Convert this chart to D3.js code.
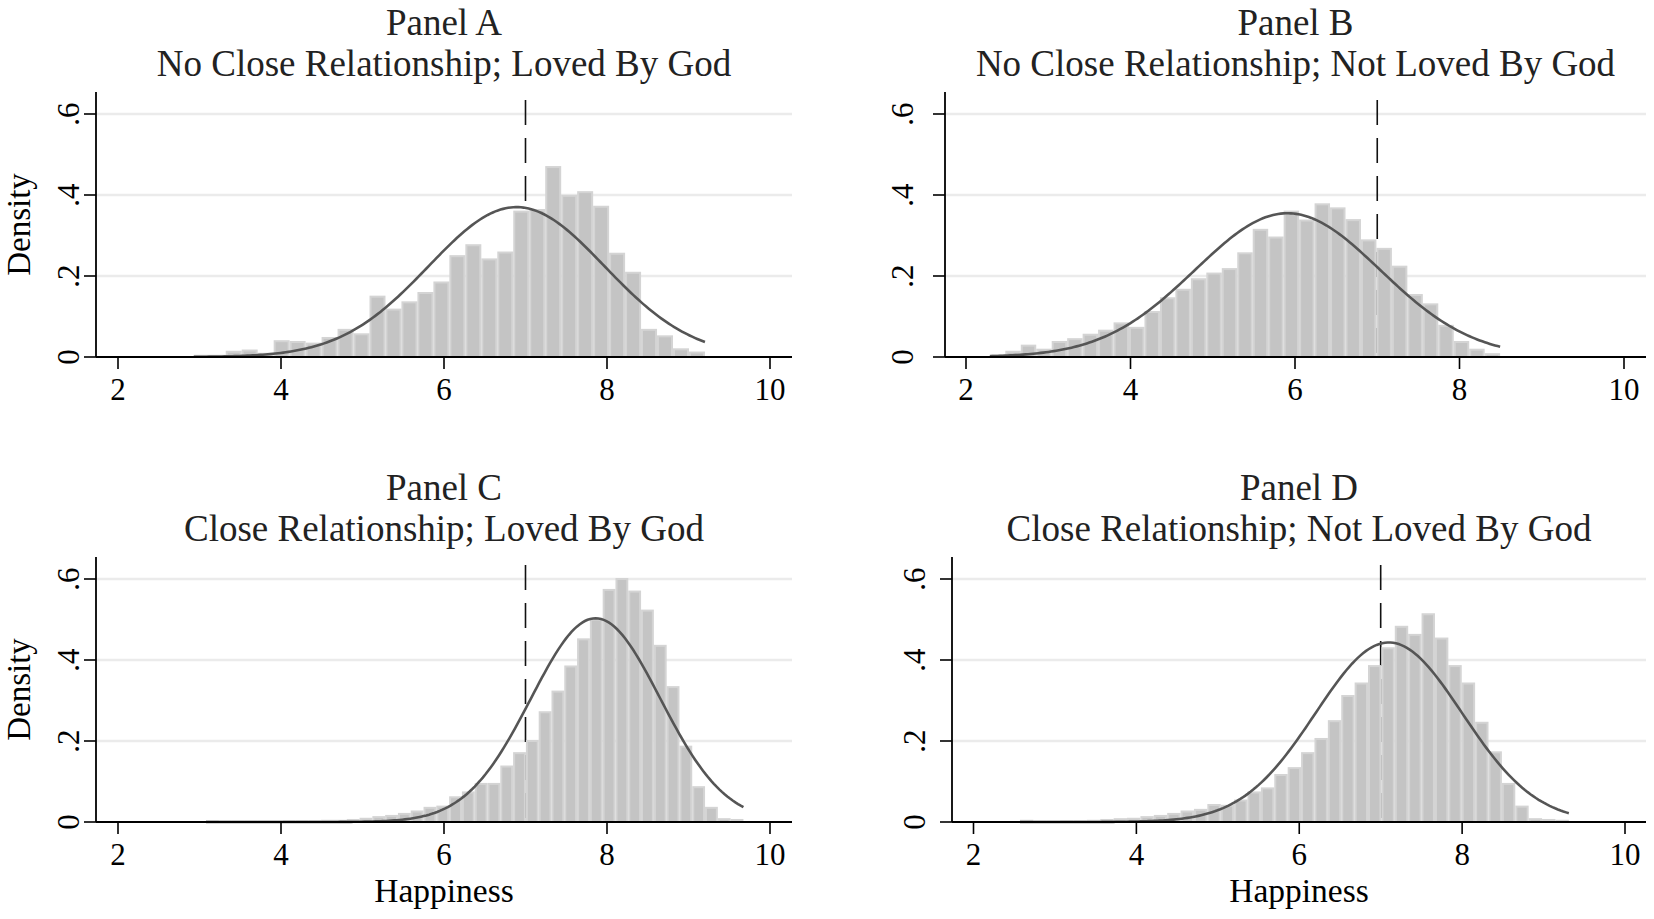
<!DOCTYPE html>
<html>
<head>
<meta charset="utf-8">
<script src="https://cdn.jsdelivr.net/npm/d3@7"></script>
<style>
  body { margin: 0; background: #fff; }
  text { font-family: "Liberation Serif", "Times New Roman", serif; fill: #000; }
</style>
</head>
<body>
<script>
    var width = 1654;
    var height = 919;

    // histogram densities, one value per bin
    var densA = [0.003, 0.003, 0.013, 0.016, 0.008, 0.039, 0.037, 0.033, 0.047, 0.067, 0.056,
                 0.149, 0.117, 0.135, 0.158, 0.184, 0.249, 0.276, 0.241, 0.258,
                 0.359, 0.363, 0.469, 0.398, 0.407, 0.371, 0.255, 0.208,
                 0.067, 0.051, 0.019, 0.011];
    var densB = [0.004, 0.013, 0.028, 0.018, 0.037, 0.044, 0.055, 0.065, 0.083, 0.072,
                 0.111, 0.145, 0.166, 0.192, 0.206, 0.217,
                 0.256, 0.314, 0.295, 0.359, 0.337, 0.377, 0.367,
                 0.338, 0.288, 0.267, 0.223, 0.153, 0.130,
                 0.077, 0.037, 0.018, 0.007];
    var densC = [0.002, 0.001, 0.001, 0.001, 0.001, 0.001, 0.002, 0.002, 0.002, 0.003,
                 0.003, 0.005, 0.008, 0.012, 0.015, 0.020, 0.026, 0.035, 0.038, 0.061, 0.073,
                 0.094, 0.094, 0.137, 0.170, 0.200, 0.271, 0.322, 0.384, 0.451, 0.500,
                 0.573, 0.600, 0.569, 0.522, 0.435, 0.333, 0.186, 0.086, 0.035, 0.007, 0.005];
    var densD = [0.003, 0.001, 0.001, 0.002, 0.002, 0.003,
                 0.005, 0.007, 0.008, 0.012, 0.015, 0.020, 0.026, 0.030,
                 0.042, 0.040, 0.053, 0.073, 0.083, 0.116, 0.133, 0.170,
                 0.205, 0.249, 0.311, 0.342, 0.385, 0.429, 0.482, 0.462,
                 0.513, 0.453, 0.385, 0.342, 0.245, 0.172, 0.094, 0.038, 0.007, 0.005, 0.003];

    var binStart = [2.93, 2.29, 3.08, 2.57];
    var binWidth = [0.196, 0.188, 0.157, 0.1644];

    // normal density overlay: mean and sd of each panel
    var normMean = [6.89, 5.91, 7.86, 7.10];
    var normSd = [1.078, 1.124, 0.793, 0.90];

    var xTicks = [2, 4, 6, 8, 10];
    var yTicks = [0, 0.2, 0.4, 0.6];
    var yTickLabels = ["0", ".2", ".4", ".6"];
    var refLine = 7;

    var panelNames = ["Panel A", "Panel B", "Panel C", "Panel D"];
    var panelSubtitles = ["No Close Relationship; Loved By God",
                          "No Close Relationship; Not Loved By God",
                          "Close Relationship; Loved By God",
                          "Close Relationship; Not Loved By God"];

    // pixel frame of each panel
    var frames = [
        {left: 96,  x2: 118,   x10: 770,  right: 792,  top: 92,  y0: 357, y6: 114, ylab: 17, ytitle: true,  xtitle: false},
        {left: 945, x2: 966,   x10: 1624, right: 1646, top: 92,  y0: 357, y6: 114, ylab: 32, ytitle: false, xtitle: false},
        {left: 96,  x2: 118,   x10: 770,  right: 792,  top: 557, y0: 822, y6: 579, ylab: 17, ytitle: true,  xtitle: true},
        {left: 952, x2: 973.5, x10: 1625, right: 1646, top: 557, y0: 822, y6: 579, ylab: 27, ytitle: false, xtitle: true}
    ];

    var allDens = [densA, densB, densC, densD];

    var svg = d3.select("body")
    .append("svg")
    .attr("width", width)
    .attr("height", height);

    function normal(x, m, s){
        return Math.exp(-0.5 * ((x - m) / s) * ((x - m) / s)) / (s * Math.sqrt(2 * Math.PI));
    }

    for(var p = 0; p < 4; p++){
        var f = frames[p];
        var dens = allDens[p];
        var g = svg.append("g");

        var scaleX = d3.scaleLinear()
        .domain([2, 10])
        .range([f.x2, f.x10]);

        var scaleY = d3.scaleLinear()
        .domain([0, 0.6])
        .range([f.y0, f.y6]);

        // grid
        g.selectAll(".grid")
        .data(yTicks.slice(1))
        .enter()
        .append("line")
        .attr("x1", f.left)
        .attr("x2", f.right)
        .attr("y1", function(d){return scaleY(d);})
        .attr("y2", function(d){return scaleY(d);})
        .style("stroke", "#ebebeb")
        .style("stroke-width", 2.5);

        // reference line at 7
        g.append("line")
        .attr("x1", scaleX(refLine))
        .attr("x2", scaleX(refLine))
        .attr("y1", f.top + 8)
        .attr("y2", f.y0)
        .style("stroke", "#111")
        .style("stroke-width", 1.6)
        .style("stroke-dasharray", "25,13");

        // bars
        var bins = dens.map(function(v, i){
            return {x0: binStart[p] + i * binWidth[p], x1: binStart[p] + (i + 1) * binWidth[p], d: v};
        });

        g.selectAll(".bar")
        .data(bins)
        .enter()
        .append("rect")
        .attr("x", function(d){return scaleX(d.x0) + 1;})
        .attr("width", function(d){return Math.max(0, scaleX(d.x1) - scaleX(d.x0) - 2);})
        .attr("y", function(d){return scaleY(d.d);})
        .attr("height", function(d){return f.y0 - scaleY(d.d);})
        .style("fill", "#c4c4c4")
        .style("stroke", "#d4d4d4")
        .style("stroke-width", 2);

        // normal curve
        var lo = binStart[p];
        var hi = binStart[p] + dens.length * binWidth[p];
        var pts = d3.range(0, 201).map(function(i){
            var x = lo + (hi - lo) * i / 200;
            return [x, normal(x, normMean[p], normSd[p])];
        });

        g.append("path")
        .datum(pts)
        .attr("d", d3.line()
            .x(function(d){return scaleX(d[0]);})
            .y(function(d){return scaleY(d[1]);}))
        .style("fill", "none")
        .style("stroke", "#555")
        .style("stroke-width", 2.6);

        // axes
        g.append("line")
        .attr("x1", f.left).attr("x2", f.right)
        .attr("y1", f.y0).attr("y2", f.y0)
        .style("stroke", "#000").style("stroke-width", 1.8);

        g.append("line")
        .attr("x1", f.left).attr("x2", f.left)
        .attr("y1", f.y0).attr("y2", f.top)
        .style("stroke", "#000").style("stroke-width", 1.8);

        g.selectAll(".xt")
        .data(xTicks)
        .enter()
        .append("line")
        .attr("x1", function(d){return scaleX(d);})
        .attr("x2", function(d){return scaleX(d);})
        .attr("y1", f.y0)
        .attr("y2", f.y0 + 12)
        .style("stroke", "#000").style("stroke-width", 1.6);

        g.selectAll(".xl")
        .data(xTicks)
        .enter()
        .append("text")
        .attr("x", function(d){return scaleX(d);})
        .attr("y", f.y0 + 43)
        .attr("text-anchor", "middle")
        .style("font-size", "31px")
        .text(function(d){return d;});

        g.selectAll(".yt")
        .data(yTicks)
        .enter()
        .append("line")
        .attr("x1", f.left - 12)
        .attr("x2", f.left)
        .attr("y1", function(d){return scaleY(d);})
        .attr("y2", function(d){return scaleY(d);})
        .style("stroke", "#000").style("stroke-width", 1.6);

        g.selectAll(".yl")
        .data(yTicks)
        .enter()
        .append("text")
        .attr("transform", function(d){return "translate(" + (f.left - f.ylab) + "," + scaleY(d) + ") rotate(-90)";})
        .attr("text-anchor", "middle")
        .style("font-size", "31px")
        .text(function(d, i){return yTickLabels[i];});

        // titles
        var cx = (f.left + f.right) / 2;
        g.append("text")
        .attr("x", cx)
        .attr("y", f.top - 57.5)
        .attr("text-anchor", "middle")
        .style("font-size", "37px")
        .style("fill", "#222")
        .text(panelNames[p]);

        g.append("text")
        .attr("x", cx)
        .attr("y", f.top - 16)
        .attr("text-anchor", "middle")
        .style("font-size", "37px")
        .style("fill", "#222")
        .text(panelSubtitles[p]);

        if(f.ytitle){
            g.append("text")
            .attr("transform", "translate(30," + ((f.top + f.y0) / 2) + ") rotate(-90)")
            .attr("text-anchor", "middle")
            .style("font-size", "33px")
            .text("Density");
        }

        if(f.xtitle){
            g.append("text")
            .attr("x", cx)
            .attr("y", f.y0 + 80)
            .attr("text-anchor", "middle")
            .style("font-size", "33.5px")
            .text("Happiness");
        }
    }
</script>
</body>
</html>
